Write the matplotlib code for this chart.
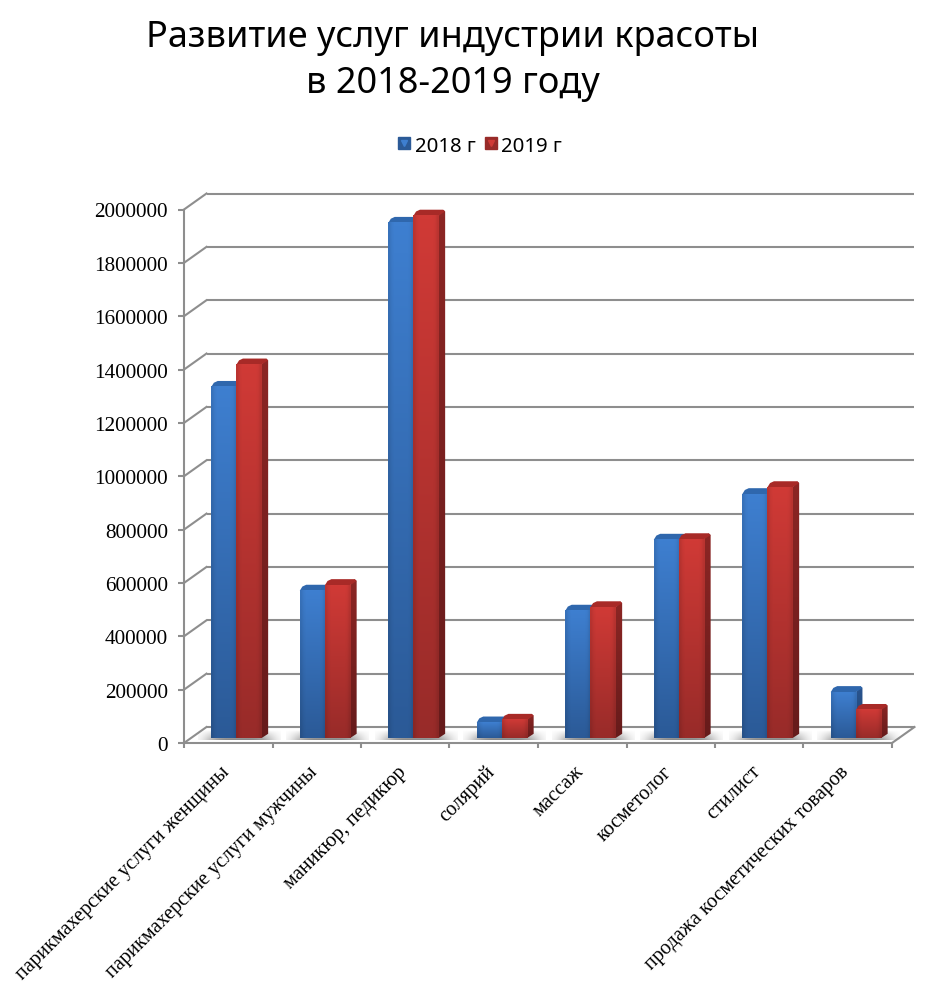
import numpy as np
import matplotlib
matplotlib.use('Agg')
import matplotlib.pyplot as plt
from matplotlib.lines import Line2D
from matplotlib.legend_handler import HandlerTuple
from matplotlib.patches import Polygon
from matplotlib.transforms import Affine2D, IdentityTransform
from matplotlib.colors import to_rgb

# data
categories = ['парикмахерские услуги женщины', 'парикмахерские услуги мужчины',
              'маникюр, педикюр', 'солярий', 'массаж', 'косметолог', 'стилист',
              'продажа косметических товаров']
values_2018 = [1316000, 552000, 1931000, 58000, 477000, 743000, 914000, 172000]
values_2019 = [1400000, 573000, 1958000, 68000, 490000, 745000, 940000, 105000]
y_ticks = list(range(0, 2000001, 200000))
series_names = ['2018 г', '2019 г']

W, H = 945, 1004
fig = plt.figure(figsize=(W / 100, H / 100), dpi=100)

# front plane of the box, in pixels of the reference
left, right, top, bottom = 184, 892, 210.5, 744
ax = fig.add_axes([left / W, 1 - bottom / H, (right - left) / W, (bottom - top) / H])
ax.patch.set_visible(False)
n = len(categories)
ax.set_xlim(0, n)
ax.set_ylim(0, 2000000)
grey = '#8e8e8e'
lw = 1.5
pixels = IdentityTransform()

# depth offsets, in pixels
back = ax.transData + Affine2D().translate(22.5, 16)
front = ax.transData + Affine2D().translate(8.2, 5)
dx, dy = 6.5, 6


def to_px(trans, x, y):
    return trans.transform((x, y))


# back wall lines and the diagonals going to them
ax.hlines(y_ticks, 0, n, color=grey, lw=lw, transform=back, zorder=1, clip_on=False)
for v in y_ticks:
    a = to_px(ax.transData, 0, v)
    b = to_px(back, 0, v)
    ax.plot([a[0], b[0]], [a[1], b[1]], color=grey, lw=lw, transform=pixels, zorder=1, clip_on=False)
a = to_px(ax.transData, n, 0)
b = to_px(back, n, 0)
ax.plot([a[0], b[0]], [a[1], b[1]], color=grey, lw=lw, transform=pixels, zorder=1, clip_on=False)

bar_w = 25.2 / ((right - left) / n)


def gradient(c_top, c_bot):
    t = np.linspace(1, 0, 64)[:, None, None]
    return t * np.array(to_rgb(c_top)) + (1 - t) * np.array(to_rgb(c_bot))


def face_image(x0, h, c_top, c_bot, z):
    # vertical gradient with slightly darker edges, like a bevel
    prof = np.array([0.9, 0.97, 1, 1, 1, 1, 1, 1, 0.98, 0.9])[None, :, None]
    img = gradient(c_top, c_bot) * prof
    return ax.imshow(np.clip(img, 0, 1), extent=(x0, x0 + bar_w, 0, h), transform=front,
                     aspect='auto', interpolation='bilinear', zorder=z, clip_on=False)


# soft shadow lying on the floor
yy, xx = np.mgrid[0:1:24j, -1:1:120j]
shadow = np.zeros((24, 120, 4))
shadow[..., :3] = 0.5
shadow[..., 3] = 0.95 * np.exp(-(xx / 0.8) ** 4) * (1 - yy) ** 0.8
px_val = 2000000 / (bottom - top)

colors = [('#3e7fd0', '#2b5a97', '#2f67ad', '#2a5590', '#1f4370'),
          ('#d03a36', '#982b29', '#a82a27', '#8c2624', '#661b1b')]

z = 3
for i in range(n):
    x_start = i + 0.5 - bar_w
    ax.imshow(shadow, extent=(x_start - 0.15, x_start + 2 * bar_w + 0.21, -2 * px_val, 8 * px_val),
              origin='lower', transform=front, aspect='auto', zorder=2, clip_on=False)
    for s, vals in enumerate([values_2018, values_2019]):
        v = vals[i]
        x0 = x_start + s * bar_w
        x1 = x0 + bar_w
        c_top, c_bot, c_cap, c_side1, c_side2 = colors[s]
        # side face
        p0, p1 = to_px(front, x1, 0), to_px(front, x1, v)
        side = np.array([p0, p1, p1 + [dx * 0.7, dy], p1 + [dx, dy * 0.7], p0 + [dx, dy * 0.7]])
        im = ax.imshow(gradient(c_side1, c_side2), transform=pixels, aspect='auto',
                       extent=(p0[0], p0[0] + dx, p0[1], p1[1] + dy), zorder=z)
        im.set_clip_path(Polygon(side, transform=pixels))
        # top face
        q0 = to_px(front, x0, v)
        q1 = p1
        cap = np.array([q0, q0 + [dx * 0.4, dy * 0.7], q0 + [dx, dy], q1 + [dx * 0.7, dy],
                        q1 + [dx, dy * 0.7], q1])
        ax.fill(cap[:, 0], cap[:, 1], color=c_cap, transform=pixels, zorder=z, lw=0, clip_on=False)
        # front face
        face_image(x0, v, c_top, c_bot, z + 0.5)
        z += 1

ax.set_xlim(0, n)
ax.set_ylim(0, 2000000)

# axes
for name in ['top', 'right']:
    ax.spines[name].set_visible(False)
for name in ['left', 'bottom']:
    ax.spines[name].set_color(grey)
    ax.spines[name].set_linewidth(lw)
    ax.spines[name].set_zorder(z)
ax.set_yticks(y_ticks)
ax.set_yticklabels([str(v) for v in y_ticks], fontfamily='Liberation Serif', fontsize=15.2)
ax.tick_params(axis='y', length=4.5, width=lw, color=grey, pad=7)
ax.set_xticks(range(n + 1))
ax.set_xticklabels([])
ax.tick_params(axis='x', length=3.5, width=lw, color=grey)

# category labels
for i, name in enumerate(categories):
    ax.annotate(name, xy=(i + 0.5, 0), xycoords=ax.get_xaxis_transform(),
                xytext=(-6, -13.5), textcoords='offset points', rotation=45,
                rotation_mode='anchor', ha='right', va='top',
                fontfamily='Liberation Serif', fontsize=14.6)

# legend
handles = []
for s in range(2):
    square = Line2D([], [], ls='', marker='s', ms=8, mfc=colors[s][1], mec=colors[s][1])
    tri = Line2D([], [], ls='', marker='v', ms=4.5, mfc=colors[s][0], mec=colors[s][0])
    handles.append((square, tri))
fig.legend(handles, series_names, handler_map={tuple: HandlerTuple(ndivide=1)},
           loc='center', bbox_to_anchor=(479 / W, 1 - 146.5 / H), ncol=2, frameon=False,
           prop={'family': 'Noto Sans', 'size': 14.7}, handlelength=0.8, handletextpad=0.1,
           columnspacing=0.35, borderpad=0)

# title
fig.text(453 / W, 1 - 61 / H, 'Развитие услуг индустрии красоты\nв 2018-2019 году',
         ha='center', va='center', fontfamily='Noto Sans', fontsize=26, linespacing=1.35)

fig.savefig('out.png', dpi=100)
